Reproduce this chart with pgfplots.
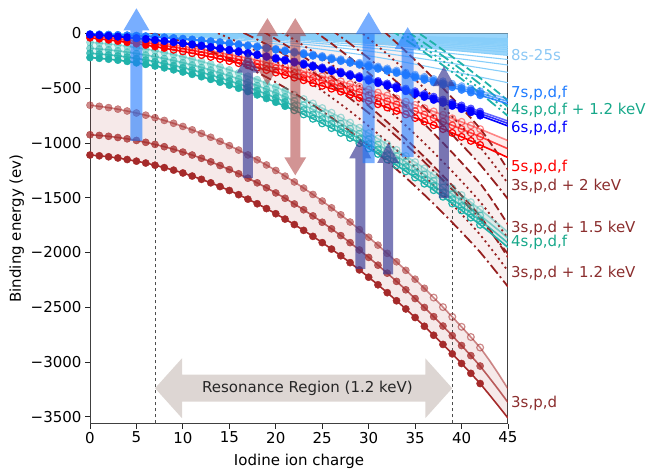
\documentclass[border=0pt]{standalone}
\usepackage{fontspec}
\setmainfont{DejaVu Sans}
\usepackage{pgfplots}
\pgfplotsset{compat=1.18}
\usepackage{pgfplotstable}
\usepgfplotslibrary{fillbetween}
\usetikzlibrary{calc}

\definecolor{brn}{HTML}{A52A2A}
\definecolor{dbrn}{HTML}{962020}
\definecolor{lsg}{HTML}{20B2AA}
\definecolor{tealtxt}{HTML}{17A88A}
\definecolor{dodger}{HTML}{1E7BFF}
\definecolor{lsky}{HTML}{87CEFA}
\definecolor{lskytxt}{HTML}{8CC8F5}
\definecolor{arrLB}{HTML}{1E78FF}
\definecolor{arrP}{HTML}{3C3C96}
\definecolor{resgrey}{HTML}{DDD6D3}
\definecolor{labbrn}{HTML}{8B2E2E}

\pgfplotstableread{
q B M T ta tb tc td ra rb rc ba bb bc sa sb sc
0 -1110 -925 -655 -80 -135 -180 -220 -15 -25 -40 -8 -10 -12 -4 -6 -8
1 -1117 -931 -665 -87 -142 -187 -227 -22 -33 -49 -13 -15 -17 -6 -8 -10
2 -1126 -939 -677 -95 -150 -195 -235 -30 -42 -59 -19 -21 -23 -8 -10 -12
3 -1137 -950 -691 -104 -159 -204 -244 -39 -52 -70 -26 -28 -30 -11 -13 -15
4 -1151 -962 -708 -115 -170 -215 -255 -48 -62 -81 -32 -35 -37 -14 -16 -18
5 -1166 -977 -726 -128 -183 -228 -268 -58 -73 -94 -40 -42 -45 -18 -20 -23
6 -1183 -994 -746 -142 -197 -242 -282 -69 -85 -106 -48 -50 -53 -22 -25 -27
7 -1203 -1013 -769 -157 -212 -257 -297 -80 -97 -120 -57 -59 -62 -27 -30 -32
8 -1225 -1034 -794 -174 -229 -274 -314 -91 -110 -134 -66 -69 -71 -33 -35 -38
9 -1248 -1057 -820 -192 -247 -292 -332 -104 -124 -149 -76 -78 -81 -39 -41 -44
10 -1274 -1083 -849 -212 -267 -312 -352 -117 -138 -164 -86 -89 -92 -45 -48 -51
11 -1302 -1110 -880 -233 -288 -333 -373 -131 -153 -180 -97 -100 -103 -52 -55 -58
12 -1332 -1140 -913 -255 -310 -355 -395 -145 -169 -197 -108 -112 -115 -59 -63 -66
13 -1364 -1172 -948 -279 -334 -379 -419 -160 -185 -214 -120 -124 -128 -67 -71 -75
14 -1398 -1206 -985 -305 -360 -405 -445 -176 -202 -233 -133 -137 -141 -76 -80 -84
15 -1434 -1243 -1024 -332 -387 -432 -472 -192 -219 -252 -146 -150 -155 -85 -89 -94
16 -1472 -1281 -1065 -360 -415 -460 -500 -209 -237 -271 -160 -164 -169 -95 -99 -104
17 -1513 -1322 -1109 -390 -445 -490 -530 -226 -256 -291 -174 -179 -184 -105 -110 -114
18 -1555 -1364 -1154 -421 -476 -521 -561 -245 -276 -312 -189 -194 -199 -115 -120 -126
19 -1599 -1409 -1201 -454 -509 -554 -594 -264 -296 -334 -204 -210 -215 -126 -132 -138
20 -1646 -1456 -1251 -488 -543 -588 -628 -283 -317 -356 -220 -226 -232 -138 -144 -150
21 -1695 -1505 -1303 -524 -579 -624 -664 -303 -339 -379 -236 -243 -249 -150 -157 -163
22 -1745 -1557 -1356 -561 -616 -661 -701 -324 -361 -403 -254 -260 -267 -163 -170 -177
23 -1798 -1610 -1412 -599 -654 -699 -739 -345 -384 -427 -271 -278 -286 -176 -183 -191
24 -1853 -1666 -1470 -639 -694 -739 -779 -367 -407 -452 -289 -297 -305 -190 -198 -205
25 -1910 -1724 -1530 -681 -736 -781 -821 -390 -431 -478 -308 -316 -325 -204 -212 -221
26 -1969 -1784 -1592 -724 -779 -824 -864 -413 -456 -504 -327 -336 -345 -219 -228 -236
27 -2030 -1846 -1656 -768 -823 -868 -908 -437 -482 -531 -347 -356 -366 -234 -243 -253
28 -2093 -1910 -1722 -814 -869 -914 -954 -462 -508 -559 -368 -377 -387 -250 -260 -270
29 -2159 -1977 -1791 -861 -916 -961 -1001 -487 -535 -587 -388 -399 -409 -266 -277 -287
30 -2226 -2045 -1861 -910 -965 -1010 -1050 -513 -562 -616 -410 -421 -432 -283 -294 -305
31 -2295 -2116 -1933 -960 -1015 -1060 -1100 -540 -590 -646 -432 -444 -455 -300 -312 -324
32 -2367 -2189 -2008 -1011 -1066 -1111 -1151 -567 -619 -676 -455 -467 -479 -318 -330 -343
33 -2441 -2264 -2085 -1064 -1119 -1164 -1204 -594 -648 -707 -478 -491 -504 -337 -350 -362
34 -2516 -2341 -2163 -1119 -1174 -1219 -1259 -623 -678 -739 -502 -515 -529 -356 -369 -383
35 -2594 -2421 -2244 -1175 -1230 -1275 -1315 -652 -709 -772 -526 -540 -555 -375 -389 -404
36 -2674 -2502 -2327 -1232 -1287 -1332 -1372 -682 -741 -805 -551 -566 -581 -395 -410 -425
37 -2756 -2586 -2412 -1291 -1346 -1391 -1431 -712 -773 -838 -576 -592 -608 -415 -431 -447
38 -2840 -2672 -2499 -1351 -1406 -1451 -1491 -743 -806 -873 -602 -619 -635 -436 -453 -469
39 -2926 -2760 -2588 -1413 -1468 -1513 -1553 -775 -839 -908 -629 -646 -663 -458 -475 -492
40 -3014 -2850 -2679 -1476 -1531 -1576 -1616 -807 -873 -944 -656 -674 -692 -480 -498 -516
41 -3104 -2942 -2772 -1541 -1596 -1641 -1681 -840 -908 -981 -684 -702 -721 -503 -521 -540
42 -3197 -3037 -2868 -1607 -1662 -1707 -1747 -873 -943 -1018 -712 -732 -751 -526 -545 -565
43 -3300 -3145 -2985 -1674 -1729 -1774 -1814 -908 -979 -1056 -741 -761 -782 -549 -570 -590
44 -3405 -3255 -3112 -1743 -1798 -1843 -1883 -943 -1016 -1094 -770 -791 -813 -573 -595 -616
45 -3513 -3370 -3245 -1814 -1869 -1914 -1954 -978 -1053 -1134 -800 -822 -845 -598 -620 -643
}\data

% curve with filled marks only
\newcommand{\crvF}[5]{%
\addplot[#2, opacity=#3, line width=1.6bp, name path=#5] table[x=q,y=#1]{\data};
\addplot[#2, opacity=#3, only marks, mark=*, mark size=3.6bp, restrict x to domain=#4] table[x=q,y=#1]{\data};}
% curve with filled then open marks
\newcommand{\crvFO}[6]{%
\addplot[#2, opacity=#3, line width=1.6bp, name path=#6] table[x=q,y=#1]{\data};
\addplot[#2, opacity=#3, only marks, mark=*, mark size=3.6bp, restrict x to domain=#4] table[x=q,y=#1]{\data};
\addplot[#2, opacity=#3, only marks, mark=o, mark size=3.4bp, mark options={line width=1.2bp}, restrict x to domain=#5] table[x=q,y=#1]{\data};}

% arrows
\newcommand{\varr}[6]{\fill[#6] ($(#1)+(-#3,0)$) -- ($(#2)+(-#3,-#5)$) -- ($(#2)+(-#4,-#5)$) -- (#2) -- ($(#2)+(#4,-#5)$) -- ($(#2)+(#3,-#5)$) -- ($(#1)+(#3,0)$) -- cycle;}
\newcommand{\dvarr}[6]{\fill[#6] (#1) -- ($(#1)+(#4,#5)$) -- ($(#1)+(#3,#5)$) -- ($(#2)+(#3,-#5)$) -- ($(#2)+(#4,-#5)$) -- (#2) -- ($(#2)+(-#4,-#5)$) -- ($(#2)+(-#3,-#5)$) -- ($(#1)+(-#3,#5)$) -- ($(#1)+(-#4,#5)$) -- cycle;}
\newcommand{\dharr}[6]{\fill[#6] (#1) -- ($(#1)+(#5,#4)$) -- ($(#1)+(#5,#3)$) -- ($(#2)+(-#5,#3)$) -- ($(#2)+(-#5,#4)$) -- (#2) -- ($(#2)+(-#5,-#4)$) -- ($(#2)+(-#5,-#3)$) -- ($(#1)+(#5,-#3)$) -- ($(#1)+(#5,-#4)$) -- cycle;}

\begin{document}
\begin{tikzpicture}[font=\fontsize{15bp}{18bp}\selectfont]
\begin{axis}[
  at={(0,0)}, anchor=south west, scale only axis,
  width=418bp, height=390bp,
  xmin=0, xmax=45, ymin=-3562, ymax=0,
  xtick={0,5,...,45}, xticklabels={0,5,10,15,20,25,30,35,40,45},
  ytick={-3500,-3000,...,0},
  yticklabels={−3500,−3000,−2500,−2000,−1500,−1000,−500,0},
  tick align=outside, tick pos=left, major tick length=5bp,
  every tick/.style={black!85, line width=0.9bp},
  axis line style={black!75, line width=1bp},
  tick label style={font=\fontsize{15bp}{18bp}\selectfont},
  label style={font=\fontsize{15bp}{18bp}\selectfont},
  xlabel={Iodine ion charge}, ylabel={Binding energy (ev)},
  x label style={at={(axis description cs:0.5,-0.097)}, anchor=center},
  y label style={at={(axis description cs:-0.175,0.5)}, anchor=center},
]
% dashed guide lines
\draw[black!70, line width=0.8bp, dash pattern=on 3.5bp off 2.5bp] (axis cs:7,-3562) -- (axis cs:7,0);
\draw[black!70, line width=0.8bp, dash pattern=on 3.5bp off 2.5bp] (axis cs:39,-3562) -- (axis cs:39,-1590);

% 8s-25s
\addplot[draw=none, name path=zero] coordinates {(0,0) (45,0)};
\addplot[lsky, line width=1.1bp, smooth, name path=n12] coordinates {(0,-0.1) (15,-24) (30,-91) (45,-200)};
\addplot[fill=lsky, fill opacity=0.85, draw=none] fill between[of=zero and n12];
\addplot[lsky, line width=1.1bp, smooth] coordinates {(0,-0.2) (15,-54) (30,-204) (45,-450)};
\addplot[lsky, line width=1.1bp, smooth] coordinates {(0,-0.2) (15,-43) (30,-161) (45,-355)};
\addplot[lsky, line width=1.1bp, smooth] coordinates {(0,-0.1) (15,-35) (30,-131) (45,-288)};
\addplot[lsky, line width=1.1bp, smooth] coordinates {(0,-0.1) (15,-29) (30,-108) (45,-238)};
\addplot[lsky, line width=1.1bp, smooth] coordinates {(0,-0.1) (15,-21) (30,-77) (45,-170)};
\addplot[lsky, line width=1.1bp, smooth] coordinates {(0,-0.1) (15,-18) (30,-67) (45,-147)};
\addplot[lsky, line width=1.1bp, smooth] coordinates {(0,-0.1) (15,-15.5) (30,-58) (45,-128)};
\addplot[lsky, line width=1.1bp, smooth] coordinates {(0,-0.1) (15,-13.6) (30,-51) (45,-112)};
\addplot[lsky, line width=1.1bp, smooth] coordinates {(0,0) (15,-12) (30,-45) (45,-100)};
\addplot[lsky, line width=1.1bp, smooth] coordinates {(0,0) (15,-10.7) (30,-40) (45,-89)};
\addplot[lsky, line width=1.1bp, smooth] coordinates {(0,0) (15,-9.6) (30,-36) (45,-80)};
\addplot[lsky, line width=1.1bp, smooth] coordinates {(0,0) (15,-8.7) (30,-33) (45,-72)};
\addplot[lsky, line width=1.1bp, smooth] coordinates {(0,0) (15,-7.9) (30,-30) (45,-65)};
\addplot[lsky, line width=1.1bp, smooth] coordinates {(0,0) (15,-7.2) (30,-27) (45,-60)};
\addplot[lsky, line width=1.1bp, smooth] coordinates {(0,0) (15,-6.6) (30,-25) (45,-54)};
\addplot[lsky, line width=1.1bp, smooth] coordinates {(0,0) (15,-6) (30,-23) (45,-50)};
\addplot[lsky, line width=1.1bp, smooth] coordinates {(0,0) (15,-5.6) (30,-21) (45,-46)};

% shifted 3s,p,d lines (+1.2, +1.5, +2 keV)
\addplot[dbrn, line width=1.8bp, dash pattern=on 11bp off 3.5bp on 2bp off 3.5bp, name path=B12] table[x=q, y expr=\thisrow{B}+1200]{\data};
\addplot[dbrn, line width=1.8bp, dash pattern=on 2bp off 3.5bp, name path=M12] table[x=q, y expr=\thisrow{M}+1200]{\data};
\addplot[dbrn, line width=1.8bp, dash pattern=on 8bp off 3.5bp, name path=T12] table[x=q, y expr=\thisrow{T}+1200]{\data};
\addplot[fill=brn, fill opacity=0.07, draw=none] fill between[of=T12 and B12];
\addplot[dbrn, line width=1.8bp, dash pattern=on 11bp off 3.5bp on 2bp off 3.5bp, name path=B15] table[x=q, y expr=\thisrow{B}+1500]{\data};
\addplot[dbrn, line width=1.8bp, dash pattern=on 2bp off 3.5bp, name path=M15] table[x=q, y expr=\thisrow{M}+1500]{\data};
\addplot[dbrn, line width=1.8bp, dash pattern=on 8bp off 3.5bp, name path=T15] table[x=q, y expr=\thisrow{T}+1500]{\data};
\addplot[fill=brn, fill opacity=0.07, draw=none] fill between[of=T15 and B15];
\addplot[dbrn, line width=1.8bp, dash pattern=on 11bp off 3.5bp on 2bp off 3.5bp, name path=B20] table[x=q, y expr=\thisrow{B}+2000]{\data};
\addplot[dbrn, line width=1.8bp, dash pattern=on 2bp off 3.5bp, name path=M20] table[x=q, y expr=\thisrow{M}+2000]{\data};
\addplot[dbrn, line width=1.8bp, dash pattern=on 8bp off 3.5bp, name path=T20] table[x=q, y expr=\thisrow{T}+2000]{\data};
\addplot[fill=brn, fill opacity=0.07, draw=none] fill between[of=T20 and B20];

% shifted 4s,p,d,f (+1.2 keV)
\addplot[lsg, line width=1.8bp, dash pattern=on 8bp off 3.5bp] table[x=q, y expr=\thisrow{ta}+1200]{\data};
\addplot[lsg, line width=1.8bp, dash pattern=on 11bp off 3.5bp on 2bp off 3.5bp] table[x=q, y expr=\thisrow{tb}+1200]{\data};
\addplot[lsg, line width=1.8bp, dash pattern=on 2bp off 3.5bp] table[x=q, y expr=\thisrow{tc}+1200]{\data};
\addplot[lsg, line width=1.8bp, dash pattern=on 11bp off 3.5bp on 2bp off 3.5bp] table[x=q, y expr=\thisrow{td}+1200]{\data};

% 4s,p,d,f
\crvFO{ta}{lsg}{0.4}{0:21}{22:42}{pta}
\crvFO{tb}{lsg}{0.55}{0:21}{22:42}{ptb}
\crvFO{tc}{lsg}{0.8}{0:21}{22:42}{ptc}
\crvFO{td}{lsg}{1}{0:21}{22:42}{ptd}
\addplot[fill=lsg, fill opacity=0.12, draw=none] fill between[of=pta and ptd];

% 5s,p,d,f
\crvFO{ra}{red}{0.45}{0:8}{9:42}{pra}
\crvFO{rb}{red}{0.7}{0:8}{9:42}{prb}
\crvFO{rc}{red}{1}{0:8}{9:42}{prc}
\addplot[fill=red, fill opacity=0.08, draw=none] fill between[of=pra and prc];

% 7s,p,d,f
\crvF{sa}{dodger}{0.5}{0:42}{psa}
\crvF{sb}{dodger}{0.7}{0:42}{psb}
\crvF{sc}{dodger}{0.9}{0:42}{psc}

% 6s,p,d,f
\crvF{ba}{blue}{0.6}{0:42}{pba}
\crvF{bb}{blue}{0.8}{0:42}{pbb}
\crvF{bc}{blue}{1}{0:42}{pbc}

% 3s,p,d
\crvFO{T}{brn}{0.55}{0:36}{37:42}{pT}
\crvF{M}{brn}{0.75}{0:42}{pM}
\crvF{B}{brn}{1}{0:42}{pB}
\addplot[fill=brn, fill opacity=0.1, draw=none] fill between[of=pT and pB];

% annotation coordinates
\coordinate (l8) at (axis cs:45,-198);
\coordinate (l7) at (axis cs:45,-545);
\coordinate (l4k) at (axis cs:45,-700);
\coordinate (l6) at (axis cs:45,-865);
\coordinate (l5) at (axis cs:45,-1221);
\coordinate (l3a) at (axis cs:45,-1395);
\coordinate (l3b) at (axis cs:45,-1778);
\coordinate (l4) at (axis cs:45,-1906);
\coordinate (l3c) at (axis cs:45,-2189);
\coordinate (l3) at (axis cs:45,-3376);
\coordinate (resL) at (axis cs:7,-3240);
\coordinate (resR) at (axis cs:39,-3240);
\coordinate (resC) at (axis cs:23.4,-3240);
\coordinate (a1b) at (axis cs:5,-980);    \coordinate (a1t) at (axis cs:5,230);
\coordinate (a2b) at (axis cs:17,-1322);  \coordinate (a2t) at (axis cs:17,-175);
\coordinate (a3b) at (axis cs:19.1,-470); \coordinate (a3t) at (axis cs:19.1,140);
\coordinate (a4b) at (axis cs:22.1,-1295);\coordinate (a4t) at (axis cs:22.1,140);
\coordinate (a5b) at (axis cs:29.1,-2150);\coordinate (a5t) at (axis cs:29.1,-957);
\coordinate (a6b) at (axis cs:32.1,-2200);\coordinate (a6t) at (axis cs:32.1,-1000);
\coordinate (a7b) at (axis cs:30,-1185);  \coordinate (a7t) at (axis cs:30,195);
\coordinate (a8b) at (axis cs:34.2,-1130);\coordinate (a8t) at (axis cs:34.2,58);
\coordinate (a9b) at (axis cs:38.1,-1504);\coordinate (a9t) at (axis cs:38.1,-299);
\end{axis}

% resonance region arrow
\dharr{resL}{resR}{13.5bp}{30bp}{27bp}{resgrey}
\node[anchor=center, text=black!85] at (resC) {Resonance Region (1.2 keV)};

% transition arrows
\varr{a1b}{a1t}{6bp}{13bp}{22bp}{arrLB, opacity=0.6}
\varr{a2b}{a2t}{5bp}{11bp}{20bp}{arrP, opacity=0.68}
\dvarr{a3b}{a3t}{5bp}{11bp}{18bp}{brn, opacity=0.5}
\dvarr{a4b}{a4t}{5bp}{11bp}{18bp}{brn, opacity=0.5}
\varr{a5b}{a5t}{5bp}{11bp}{20bp}{arrP, opacity=0.68}
\varr{a6b}{a6t}{5bp}{11bp}{20bp}{arrP, opacity=0.68}
\varr{a7b}{a7t}{6bp}{13bp}{22bp}{arrLB, opacity=0.6}
\varr{a8b}{a8t}{6bp}{13bp}{22bp}{arrLB, opacity=0.6}
\varr{a9b}{a9t}{5bp}{11bp}{20bp}{arrP, opacity=0.68}

% right-hand labels
\node[anchor=west, inner sep=0pt, xshift=3bp, text=lskytxt] at (l8) {8s-25s};
\node[anchor=west, inner sep=0pt, xshift=3bp, text=dodger] at (l7) {7s,p,d,f};
\node[anchor=west, inner sep=0pt, xshift=3bp, text=tealtxt] at (l4k) {4s,p,d,f + 1.2 keV};
\node[anchor=west, inner sep=0pt, xshift=3bp, text=blue] at (l6) {6s,p,d,f};
\node[anchor=west, inner sep=0pt, xshift=3bp, text=red] at (l5) {5s,p,d,f};
\node[anchor=west, inner sep=0pt, xshift=3bp, text=labbrn] at (l3a) {3s,p,d + 2 keV};
\node[anchor=west, inner sep=0pt, xshift=3bp, text=labbrn] at (l3b) {3s,p,d + 1.5 keV};
\node[anchor=west, inner sep=0pt, xshift=3bp, text=tealtxt] at (l4) {4s,p,d,f};
\node[anchor=west, inner sep=0pt, xshift=3bp, text=labbrn] at (l3c) {3s,p,d + 1.2 keV};
\node[anchor=west, inner sep=0pt, xshift=3bp, text=labbrn] at (l3) {3s,p,d};

\pgfresetboundingbox
\useasboundingbox (-90bp,-46.5bp) rectangle (563bp,423.5bp);
\end{tikzpicture}
\end{document}
